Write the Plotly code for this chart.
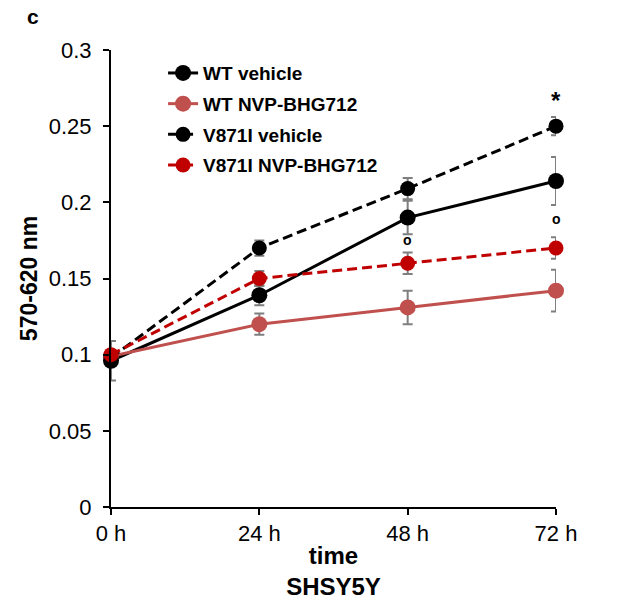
import plotly.graph_objects as go

hours = [0, 24, 48, 72]
tick_labels = ["0 h", "24 h", "48 h", "72 h"]

wt_vehicle = [0.096, 0.139, 0.190, 0.214]
wt_vehicle_err = [0.013, 0.0065, 0.011, 0.0157]
wt_nvp = [0.099, 0.120, 0.131, 0.142]
wt_nvp_err = [0.0, 0.007, 0.011, 0.0137]
v871i_vehicle = [0.098, 0.170, 0.209, 0.250]
v871i_vehicle_err = [0.0, 0.005, 0.007, 0.006]
v871i_nvp = [0.100, 0.150, 0.160, 0.170]
v871i_nvp_err = [0.0, 0.005, 0.007, 0.007]

series = [
    ("WT vehicle", wt_vehicle, wt_vehicle_err, "#000000", "solid", 16),
    ("WT NVP-BHG712", wt_nvp, wt_nvp_err, "#c0504d", "solid", 16),
    ("V871I vehicle", v871i_vehicle, v871i_vehicle_err, "#000000", "10px,5px", 15),
    ("V871I NVP-BHG712", v871i_nvp, v871i_nvp_err, "#c00000", "10px,5px", 15),
]

fig = go.Figure()
for i, (name, ys, errs, color, dash, msize) in enumerate(series):
    fig.add_trace(go.Scatter(
        x=hours, y=ys, name=name, mode="lines+markers",
        legendgroup=f"g{i}",
        line=dict(color=color, width=3, dash=dash),
        marker=dict(color=color, size=msize),
        error_y=dict(type="data", array=errs, visible=True,
                     color="#7f7f7f", thickness=2, width=5),
        cliponaxis=False,
    ))

font_family = "Liberation Sans, Arial, sans-serif"

fig.update_layout(
    width=638, height=608,
    margin=dict(l=111, r=82, t=50, b=98),
    plot_bgcolor="white", paper_bgcolor="white",
    font=dict(family=font_family, color="#000000"),
    showlegend=True,
    legend=dict(
        x=0.117, y=0.991, xanchor="left", yanchor="top",
        traceorder="grouped", tracegroupgap=3,
        font=dict(size=19, family=font_family, weight="bold"),
        bgcolor="rgba(0,0,0,0)",
    ),
    xaxis=dict(
        range=[0, 72], tickvals=hours, ticktext=tick_labels,
        showline=True, linecolor="black", linewidth=2,
        ticks="outside", ticklen=6, tickwidth=1.5, tickcolor="black",
        showgrid=False, zeroline=False,
        tickfont=dict(size=22),
        title=dict(text="<b>time</b><br><b>SHSY5Y</b>", font=dict(size=24), standoff=2),
    ),
    yaxis=dict(
        range=[0, 0.3], dtick=0.05, tickformat="~g",
        showline=True, linecolor="black", linewidth=2,
        ticks="outside", ticklen=6, tickwidth=1.5, tickcolor="black",
        ticklabelstandoff=7,
        showgrid=False, zeroline=False,
        tickfont=dict(size=22),
        title=dict(text="<b>570-620 nm</b>", font=dict(size=23), standoff=5),
    ),
    annotations=[
        dict(x=72, y=0.267, text="<b>*</b>", showarrow=False,
             font=dict(size=24), xref="x", yref="y"),
        dict(x=48, y=0.175, text="<b>o</b>", showarrow=False,
             font=dict(size=14), xref="x", yref="y"),
        dict(x=72, y=0.189, text="<b>o</b>", showarrow=False,
             font=dict(size=14), xref="x", yref="y"),
        dict(x=-0.175, y=1.074, xref="paper", yref="paper", text="<b>c</b>",
             showarrow=False, font=dict(size=21), xanchor="center", yanchor="middle"),
    ],
)

fig.write_html("out.html", config={"displayModeBar": False},
               post_script="document.body.style.margin='0';")
